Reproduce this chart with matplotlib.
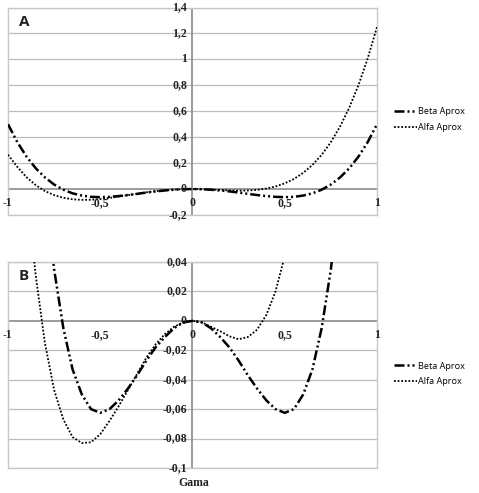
import matplotlib.pyplot as plt
from matplotlib.lines import Line2D

# values
gama = [-1.0, -0.95, -0.9, -0.85, -0.8, -0.75, -0.7, -0.65, -0.6, -0.55, -0.5,
        -0.45, -0.4, -0.35, -0.3, -0.25, -0.2, -0.15, -0.1, -0.05, 0.0,
        0.05, 0.1, 0.15, 0.2, 0.25, 0.3, 0.35, 0.4, 0.45, 0.5,
        0.55, 0.6, 0.65, 0.7, 0.75, 0.8, 0.85, 0.9, 0.95, 1.0]
beta = [0.5, 0.363, 0.251, 0.161, 0.090, 0.035, -0.005, -0.033, -0.050, -0.060, -0.0625,
        -0.060, -0.054, -0.046, -0.037, -0.027, -0.018, -0.011, -0.005, -0.001, 0.0,
        -0.001, -0.005, -0.011, -0.018, -0.027, -0.037, -0.046, -0.054, -0.060, -0.0625,
        -0.060, -0.050, -0.033, -0.005, 0.035, 0.090, 0.161, 0.251, 0.363, 0.5]
alfa = [0.265, 0.172, 0.092, 0.031, -0.015, -0.047, -0.067, -0.079, -0.0830, -0.0825, -0.077,
        -0.068, -0.058, -0.047, -0.036, -0.025, -0.016, -0.009, -0.004, -0.001, 0.0,
        -0.001, -0.004, -0.007, -0.0105, -0.0125, -0.011, -0.006, 0.004, 0.020, 0.044,
        0.078, 0.125, 0.186, 0.264, 0.362, 0.483, 0.629, 0.803, 1.009, 1.25]

x_ticks = [-1, -0.5, 0, 0.5, 1]
x_labels = ['-1', '-0,5', '0', '0,5', '1']
ya_ticks = [-0.2, 0, 0.2, 0.4, 0.6, 0.8, 1.0, 1.2, 1.4]
ya_labels = ['-0,2', '0', '0,2', '0,4', '0,6', '0,8', '1', '1,2', '1,4']
yb_ticks = [-0.1, -0.08, -0.06, -0.04, -0.02, 0, 0.02, 0.04]
yb_labels = ['-0,1', '-0,08', '-0,06', '-0,04', '-0,02', '0', '0,02', '0,04']

W, H = 479, 493
beta_style = (0, (4, 1.2, 0.8, 1.2, 0.8, 1.2))
serif = dict(family='Liberation Serif', weight='bold', size=8.5, color='#222222')


def draw_panel(ax, y_ticks, y_labels, letter, ylim):
    ax.set_xlim(-1, 1)
    ax.set_ylim(*ylim)
    ax.set_xticks([])
    ax.set_yticks([])
    for s in ax.spines.values():
        s.set_color('#c8c8c8')
        s.set_linewidth(1)
    for t in y_ticks:
        if t != 0:
            ax.axhline(t, color='#bdbdbd', lw=0.9, zorder=0)
    ax.axhline(0, color='#8a8a8a', lw=1.2, zorder=1)
    ax.axvline(0, color='#8a8a8a', lw=1.2, zorder=1)
    ax.plot(gama, beta, color='black', lw=1.8, ls=beta_style, zorder=3)
    ax.plot(gama, alfa, color='black', lw=1.3, ls=(0, (1, 1)), zorder=3)
    tr = ax.get_yaxis_transform()
    for t, lab in zip(y_ticks, y_labels):
        ax.text(0.485, t, lab, transform=tr, ha='right', va='center', **serif)
    # x labels sit under the zero line
    y0 = ax.transData.transform((0, 0))[1]
    for t, lab in zip(x_ticks, x_labels):
        xp = ax.transData.transform((t, 0))[0]
        if t == -1:
            xp -= 1
        ax.text(xp / fig.dpi, (y0 - 14) / fig.dpi, lab, ha='center', va='center',
                transform=fig.dpi_scale_trans, **serif)
    ax.text(0.03, 0.93, letter, transform=ax.transAxes, ha='left', va='center',
            fontsize=11, fontweight='bold', family='Open Sans', color='#222222')


fig = plt.figure(figsize=(W / 100, H / 100), dpi=100)
axA = fig.add_axes([8 / W, 1 - 215 / H, (377 - 8) / W, (215 - 7.5) / H])
axB = fig.add_axes([8 / W, 1 - 468 / H, (377 - 8) / W, (468 - 262) / H])
fig.canvas.draw()
draw_panel(axA, ya_ticks, ya_labels, 'A', (-0.2, 1.4))
draw_panel(axB, yb_ticks, yb_labels, 'B', (-0.1, 0.04))

fig.text(194 / W, 1 - 483 / H, 'Gama', ha='center', va='center', **serif)

handles = [Line2D([], [], color='black', lw=1.8, ls=beta_style),
           Line2D([], [], color='black', lw=1.3, ls=(0, (1, 1)))]
names = ['Beta Aprox', 'Alfa Aprox']
for yc in (119.5, 374):
    fig.legend(handles, names, loc='center left',
               bbox_to_anchor=(394 / W, 1 - yc / H), frameon=False,
               prop=dict(family='Open Sans', size=6.6), handlelength=2.5,
               handletextpad=0.1, labelspacing=0.75, borderaxespad=0,
               borderpad=0)

fig.savefig('out.png', dpi=100)
